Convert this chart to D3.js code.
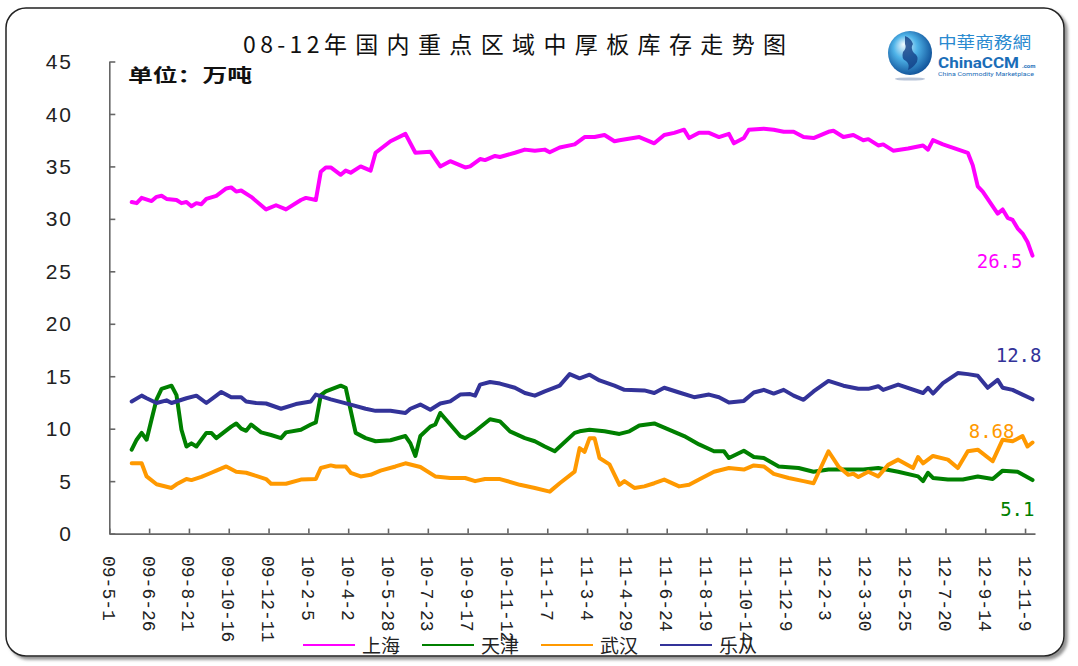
<!DOCTYPE html>
<html>
<head>
<meta charset="utf-8">
<script src="https://cdn.jsdelivr.net/npm/d3@7"></script>
<style>
  body { margin: 0; background: #fff; }
  svg { display: block; }
</style>
</head>
<body>
<div id="chart"></div>
<script>
// weekly categories, one tick label every 8 weeks (week 0 = 09-5-1)
const tickLabels = ['09-5-1', '09-6-26', '09-8-21', '09-10-16', '09-12-11', '10-2-5', '10-4-2', '10-5-28',
  '10-7-23', '10-9-17', '10-11-12', '11-1-7', '11-3-4', '11-4-29', '11-6-24', '11-8-19', '11-10-14',
  '11-12-9', '12-2-3', '12-3-30', '12-5-25', '12-7-20', '12-9-14', '12-11-9'];
const yTicks = [0, 5, 10, 15, 20, 25, 30, 35, 40, 45];

const shanghaiWeeks = [4, 5, 6, 8, 9, 10, 11, 13, 14, 15, 16, 17, 18, 19, 21, 23, 24, 25, 26, 28, 30, 31, 33, 35, 38, 39, 41, 42, 43, 44, 46, 47, 48, 50, 52, 53, 56, 59, 61, 64, 65, 66, 68, 71, 72, 74, 75, 77, 78, 81, 83, 85, 87, 88, 90, 93, 95, 97, 99, 101, 102, 106, 109, 111, 113, 115, 116, 118, 120, 122, 124, 125, 127, 128, 131, 133, 135, 137, 139, 141, 144, 145, 147, 149, 151, 152, 154, 155, 157, 160, 163, 164, 165, 167, 172, 173, 174, 175, 178, 179, 180, 181, 182, 183, 184, 185];
const shanghaiValues = [31.6, 31.5, 32.0, 31.7, 32.1, 32.2, 31.9, 31.8, 31.5, 31.6, 31.2, 31.5, 31.4, 31.9, 32.2, 32.9, 33.0, 32.6, 32.7, 32.1, 31.3, 30.9, 31.3, 30.9, 31.8, 32.0, 31.8, 34.5, 34.9, 34.9, 34.2, 34.6, 34.4, 35.0, 34.6, 36.3, 37.4, 38.1, 36.3, 36.4, 35.7, 35.0, 35.5, 34.9, 35.0, 35.7, 35.6, 36.0, 35.9, 36.3, 36.6, 36.5, 36.6, 36.35, 36.8, 37.1, 37.8, 37.8, 38.0, 37.4, 37.5, 37.8, 37.2, 38.0, 38.2, 38.5, 37.7, 38.2, 38.2, 37.8, 38.1, 37.2, 37.7, 38.5, 38.6, 38.5, 38.3, 38.3, 37.8, 37.7, 38.3, 38.4, 37.8, 38.0, 37.5, 37.6, 37.0, 37.1, 36.5, 36.7, 37.0, 36.6, 37.5, 37.1, 36.3, 35.1, 33.1, 32.6, 30.5, 30.9, 30.1, 29.9, 29.1, 28.6, 27.8, 26.5];

const tianjinWeeks = [4, 5, 6, 7, 8, 9, 10, 12, 13, 14, 15, 16, 17, 19, 20, 21, 24, 25, 26, 27, 28, 30, 32, 34, 35, 38, 40, 41, 42, 43, 46, 47, 49, 51, 53, 56, 59, 60, 61, 62, 64, 65, 66, 68, 70, 71, 73, 76, 78, 80, 83, 85, 87, 89, 93, 94, 96, 99, 102, 104, 106, 109, 111, 115, 118, 121, 123, 124, 127, 129, 131, 134, 138, 141, 144, 147, 151, 154, 158, 162, 163, 164, 165, 168, 171, 174, 177, 179, 182, 185];
const tianjinValues = [8.0, 8.95, 9.6, 8.95, 10.9, 12.8, 13.8, 14.1, 13.2, 9.9, 8.3, 8.6, 8.3, 9.6, 9.6, 9.1, 10.2, 10.5, 10.0, 9.8, 10.4, 9.65, 9.4, 9.1, 9.65, 9.9, 10.4, 10.6, 13.2, 13.55, 14.1, 13.9, 9.6, 9.1, 8.8, 8.9, 9.3, 8.6, 7.4, 9.3, 10.2, 10.4, 11.5, 10.4, 9.3, 9.1, 9.75, 10.9, 10.7, 9.75, 9.1, 8.8, 8.3, 7.85, 9.6, 9.75, 9.9, 9.75, 9.5, 9.75, 10.3, 10.5, 10.1, 9.3, 8.5, 7.85, 7.85, 7.2, 7.9, 7.3, 7.2, 6.4, 6.25, 5.9, 6.1, 6.1, 6.1, 6.25, 5.9, 5.45, 5.0, 5.8, 5.3, 5.15, 5.15, 5.45, 5.2, 6.0, 5.9, 5.1];

const wuhanWeeks = [4, 6, 7, 9, 12, 13, 15, 16, 18, 20, 21, 23, 25, 27, 29, 31, 32, 35, 38, 41, 42, 44, 45, 47, 48, 50, 52, 54, 57, 59, 62, 65, 68, 71, 73, 75, 78, 82, 85, 88, 90, 93, 94, 95, 96, 97, 98, 100, 102, 103, 105, 107, 109, 111, 114, 116, 118, 121, 124, 127, 129, 131, 133, 136, 139, 141, 144, 146, 148, 149, 150, 152, 154, 156, 158, 161, 162, 163, 165, 168, 170, 172, 174, 177, 179, 181, 183, 184, 185];
const wuhanValues = [6.7, 6.7, 5.45, 4.7, 4.35, 4.7, 5.2, 5.1, 5.4, 5.8, 6.0, 6.4, 5.9, 5.8, 5.5, 5.2, 4.75, 4.75, 5.15, 5.2, 6.25, 6.5, 6.4, 6.4, 5.8, 5.45, 5.6, 6.0, 6.4, 6.7, 6.35, 5.45, 5.3, 5.3, 5.0, 5.2, 5.2, 4.65, 4.35, 4.0, 4.8, 5.9, 8.15, 7.8, 9.1, 9.1, 7.2, 6.6, 4.65, 5.0, 4.35, 4.5, 4.8, 5.15, 4.5, 4.65, 5.15, 5.9, 6.25, 6.1, 6.5, 6.4, 5.7, 5.3, 5.0, 4.8, 7.85, 6.4, 5.6, 5.7, 5.4, 5.9, 5.45, 6.55, 7.05, 6.25, 7.3, 6.7, 7.4, 7.05, 6.25, 7.85, 8.0, 6.9, 8.95, 8.8, 9.3, 8.3, 8.68];

const lecongWeeks = [4, 6, 7, 9, 11, 12, 15, 17, 19, 21, 22, 24, 26, 27, 29, 31, 34, 37, 40, 41, 44, 48, 51, 53, 56, 59, 60, 62, 64, 66, 68, 70, 72, 73, 74, 76, 78, 81, 83, 85, 87, 90, 92, 94, 96, 98, 101, 103, 107, 109, 111, 114, 117, 120, 122, 124, 127, 129, 131, 133, 135, 137, 139, 141, 144, 147, 150, 152, 154, 155, 158, 163, 164, 165, 167, 170, 172, 174, 176, 178, 179, 181, 183, 185];
const lecongValues = [12.6, 13.15, 12.9, 12.45, 12.7, 12.45, 12.9, 13.15, 12.45, 13.15, 13.5, 13.0, 13.0, 12.6, 12.45, 12.4, 11.9, 12.35, 12.6, 13.25, 12.8, 12.3, 11.9, 11.7, 11.7, 11.5, 11.9, 12.3, 11.8, 12.4, 12.6, 13.25, 13.3, 13.15, 14.2, 14.45, 14.3, 13.9, 13.4, 13.15, 13.55, 14.1, 15.2, 14.8, 15.15, 14.6, 14.1, 13.7, 13.65, 13.4, 13.9, 13.45, 13.0, 13.25, 13.0, 12.5, 12.65, 13.45, 13.7, 13.35, 13.7, 13.15, 12.75, 13.55, 14.55, 14.1, 13.8, 13.8, 14.05, 13.7, 14.2, 13.4, 13.9, 13.35, 14.35, 15.3, 15.2, 15.05, 13.9, 14.65, 13.9, 13.7, 13.25, 12.8];

const lastLabels = ['26.5', '5.1', '8.68', '12.8'];

const W = 1078, H = 666;
const series = [
  { name: '上海', color: '#ff00ff', weeks: shanghaiWeeks, values: shanghaiValues, dx: -10, dy: 12 },
  { name: '天津', color: '#008000', weeks: tianjinWeeks, values: tianjinValues, dx: 2, dy: 36 },
  { name: '武汉', color: '#ff9900', weeks: wuhanWeeks, values: wuhanValues, dx: -18, dy: -5 },
  { name: '乐从', color: '#333399', weeks: lecongWeeks, values: lecongValues, dx: 9, dy: -37 }
];

const svg = d3.select('#chart').append('svg').attr('width', W).attr('height', H);
const defs = svg.append('defs');

const shadow = defs.append('filter').attr('id', 'shadow')
  .attr('x', '-5%').attr('y', '-5%').attr('width', '110%').attr('height', '110%');
shadow.append('feDropShadow').attr('dx', 3).attr('dy', 3).attr('stdDeviation', 1.5)
  .attr('flood-color', '#777').attr('flood-opacity', 0.8);

const globe = defs.append('radialGradient').attr('id', 'globe')
  .attr('cx', '45%').attr('cy', '45%').attr('r', '60%').attr('fx', '35%').attr('fy', '30%');
globe.append('stop').attr('offset', '0%').attr('stop-color', '#f2fbff');
globe.append('stop').attr('offset', '45%').attr('stop-color', '#4fb3e8');
globe.append('stop').attr('offset', '100%').attr('stop-color', '#0b4a93');

// frame
svg.append('rect')
  .attr('x', 6).attr('y', 8).attr('width', 1058).attr('height', 648).attr('rx', 20)
  .attr('fill', '#fff').attr('stroke', '#222').attr('stroke-width', 1.5)
  .attr('filter', 'url(#shadow)');

// title
const title = svg.append('text')
  .attr('x', 243).attr('y', 53)
  .attr('font-family', '"Noto Sans CJK SC", sans-serif')
  .attr('font-size', 23).attr('fill', '#111')
  .attr('textLength', 549).attr('lengthAdjust', 'spacing');
title.append('tspan').attr('letter-spacing', 2).text('08-12');
title.append('tspan').attr('letter-spacing', 6).text('年国内重点区域中厚板库存走势图');

svg.append('text')
  .attr('x', 128).attr('y', 82)
  .attr('font-family', '"Noto Sans CJK SC", sans-serif')
  .attr('font-size', 18).attr('font-weight', 'bold').attr('fill', '#111')
  .attr('textLength', 124).attr('lengthAdjust', 'spacingAndGlyphs')
  .text('单位：万吨');

// logo
const logo = svg.append('g').attr('class', 'logo');
logo.append('ellipse').attr('cx', 910).attr('cy', 79).attr('rx', 15).attr('ry', 1.6).attr('fill', '#b8c4d8');
logo.append('circle').attr('cx', 910).attr('cy', 53).attr('r', 22).attr('fill', 'url(#globe)');
logo.append('path')
  .attr('d', 'M905,36 q6,2 8,8 q-3,4 1,9 q5,3 3,9 q-4,6 -9,8 q2,-6 -2,-9 q-5,-2 -3,-9 q4,-4 2,-8 z')
  .attr('fill', '#123f86').attr('opacity', 0.8);
logo.append('text').attr('x', 938).attr('y', 48)
  .attr('font-family', '"Noto Sans CJK TC", sans-serif').attr('font-size', 16)
  .attr('fill', '#2a8ad0').attr('textLength', 93).attr('lengthAdjust', 'spacingAndGlyphs')
  .text('中華商務網');
logo.append('text').attr('x', 938).attr('y', 68)
  .attr('font-family', 'Roboto, sans-serif').attr('font-size', 15).attr('font-weight', 'bold')
  .attr('fill', '#1a6db8').attr('textLength', 81).attr('lengthAdjust', 'spacingAndGlyphs')
  .text('ChinaCCM');
logo.append('text').attr('x', 1022).attr('y', 68)
  .attr('font-family', 'Roboto, sans-serif').attr('font-size', 6).attr('font-weight', 'bold')
  .attr('fill', '#1a6db8').text('.com');
logo.append('text').attr('x', 938).attr('y', 76)
  .attr('font-family', 'Roboto, sans-serif').attr('font-size', 5)
  .attr('fill', '#1a6db8').attr('textLength', 96).attr('lengthAdjust', 'spacingAndGlyphs')
  .text('China Commodity Marketplace');

// scales
const xScale = d3.scaleLinear().domain([0, 186]).range([109.3, 1035]);
const yScale = d3.scaleLinear().domain([0, 45]).range([533.6, 61.5]);

// axes (ticks pointing into the plot)
const yAxis = svg.append('g').attr('transform', `translate(${xScale(0)},0)`)
  .call(d3.axisLeft(yScale).tickValues(yTicks).tickSize(-6).tickSizeOuter(0).tickFormat(''));
const xAxis = svg.append('g').attr('transform', `translate(0,${yScale(0)})`)
  .call(d3.axisBottom(xScale).tickValues(tickLabels.map((d, i) => i * 8)).tickSize(-5).tickSizeOuter(0).tickFormat(''));
[yAxis, xAxis].forEach(a => {
  a.selectAll('path,line').attr('stroke', '#666').attr('stroke-width', 1.6);
});

// y labels
svg.append('g').selectAll('text')
  .data(yTicks)
  .join('text')
  .attr('x', 73).attr('y', d => yScale(d)).attr('dy', '0.36em')
  .attr('text-anchor', 'end')
  .attr('font-family', '"Liberation Sans", Arial, sans-serif')
  .attr('font-size', 21).attr('letter-spacing', 2).attr('fill', '#222')
  .text(d => d);

// x labels, rotated, reading downward
svg.append('g').selectAll('text')
  .data(tickLabels)
  .join('text')
  .attr('transform', (d, i) => `translate(${xScale(i * 8)},556) rotate(90)`)
  .attr('dy', '0.36em')
  .attr('font-family', '"Liberation Mono", monospace')
  .attr('font-size', 18).attr('fill', '#222')
  .text(d => d);

// lines
const line = d3.line()
  .x(d => xScale(d.w + 0.5))
  .y(d => yScale(d.v));

const lineG = svg.append('g');
series.forEach((s, k) => {
  const pts = s.weeks.map((w, i) => ({ w, v: s.values[i] }));
  lineG.append('path')
    .datum(pts)
    .attr('d', line)
    .attr('fill', 'none')
    .attr('stroke', s.color)
    .attr('stroke-width', 4)
    .attr('stroke-linejoin', 'round')
    .attr('stroke-linecap', 'round');

  const last = pts[pts.length - 1];
  svg.append('text')
    .attr('x', xScale(last.w + 0.5) + s.dx)
    .attr('y', yScale(last.v) + s.dy)
    .attr('text-anchor', 'end')
    .attr('font-family', '"DejaVu Sans Mono", monospace')
    .attr('font-size', 19).attr('fill', s.color)
    .text(lastLabels[k]);
});

// legend
const legend = svg.append('g').attr('transform', 'translate(303,645)');
const item = legend.selectAll('g')
  .data(series)
  .join('g')
  .attr('transform', (d, i) => `translate(${i * 119},0)`);
item.append('line')
  .attr('x1', 0).attr('x2', 52).attr('y1', 0).attr('y2', 0)
  .attr('stroke', d => d.color).attr('stroke-width', 2);
item.append('text')
  .attr('x', 59).attr('y', 0).attr('dy', '0.4em')
  .attr('font-family', '"Noto Sans CJK SC", sans-serif')
  .attr('font-size', 19).attr('fill', '#222')
  .text(d => d.name);
</script>
</body>
</html>
